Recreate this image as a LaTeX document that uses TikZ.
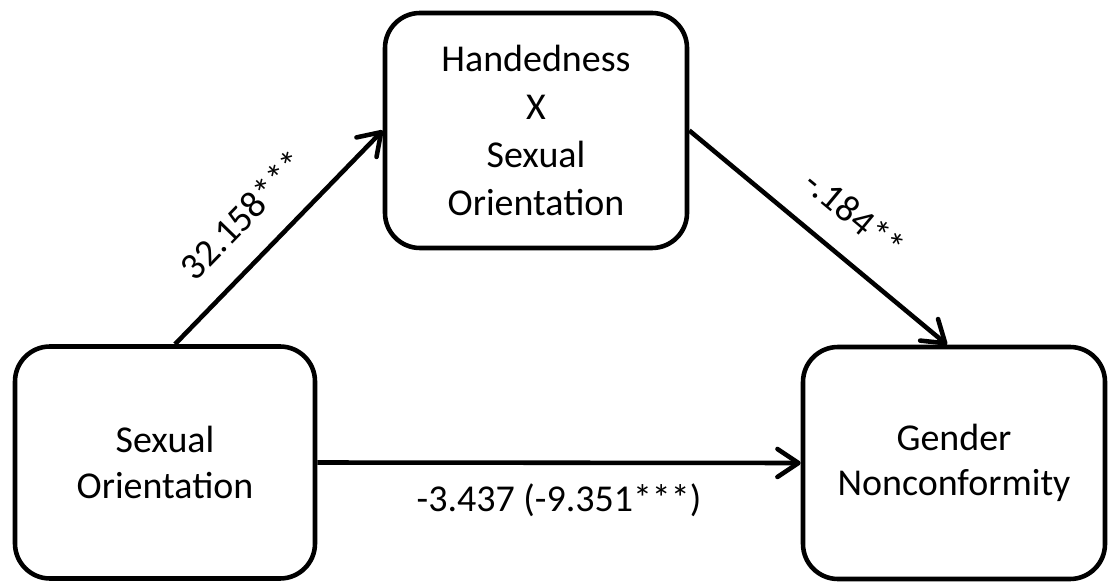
\documentclass[tikz,border=0pt]{standalone}
\usepackage{fontspec}
\setmainfont{Carlito}
\usetikzlibrary{arrows.meta}

\begin{document}
\begin{tikzpicture}[
		box/.style={draw,line width=1.3pt,rounded corners=3.5mm,minimum width=3.02cm,minimum height=2.32cm,align=center,font=\fontsize{10.8}{13}\selectfont},
		link/.style={line width=1.3pt,-{Straight Barb[length=2.1mm,width=2.8mm,round]}},
		lab/.style={font=\fontsize{10.8}{13}\selectfont}]
		\useasboundingbox(0,0)rectangle(11.09,5.83);
		\node[box,minimum height=2.35cm,font=\fontsize{10.8}{13.6}\selectfont](hx)at(5.36,4.525){Handedness\\X\\Sexual\\Orientation};
		\node[box,minimum width=3cm](so)at(1.65,1.205){Sexual\\Orientation};
		\node[box](gn)at(9.54,1.20){Gender\\Nonconformity};
		% paths
		\draw[link]([xshift=1mm]so.north)--(hx.west)node[lab,pos=.47,sloped,above=4pt]{32.158***};
		\draw[link](hx.east)--([xshift=-.7mm]gn.north)node[lab,pos=.54,sloped,above=4pt]{-.184**};
		\draw[link](so.east)--(gn.west)node[lab,midway,below=2pt]{-3.437 (-9.351***)};
	\end{tikzpicture}
\end{document}
